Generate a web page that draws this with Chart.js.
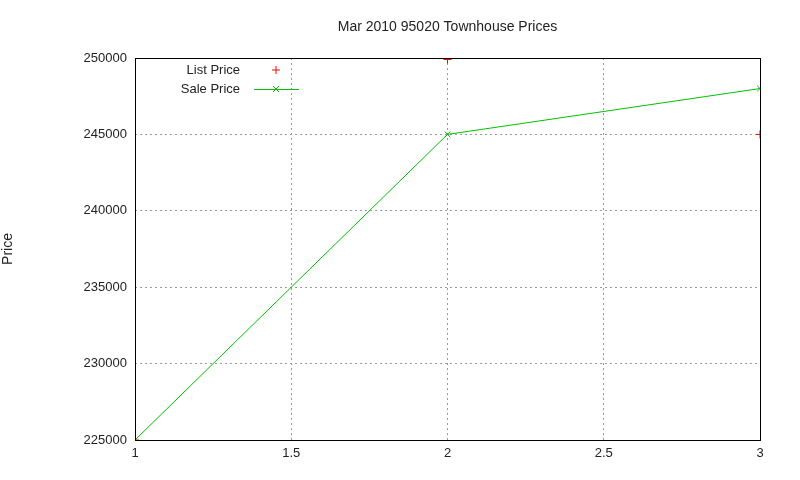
<!DOCTYPE html>
<html>
<head>
<meta charset="utf-8">
<script src="https://cdn.jsdelivr.net/npm/chart.js@4"></script>
<style>
  body { margin:0; background:#fff; }
  #wrap { width:800px; height:480px; }
</style>
</head>
<body>
<div id="wrap"><canvas id="c"></canvas></div>
<script>
'use strict';

const xValues = [1, 2, 3];
const listPrice = [225000, 249900, 245000];
const salePrice = [225000, 245000, 248000];
const chartTitle = 'Mar 2010 95020 Townhouse Prices';

const FONT = { family: 'Liberation Sans, Arial, sans-serif', size: 13 };

// box, title over plot area and gnuplot-style key inside top-left
const boxAndKey = {
  id: 'boxAndKey',
  afterDraw(chart) {
    const { ctx, chartArea: a } = chart;
    ctx.save();
    ctx.strokeStyle = '#000'; ctx.lineWidth = 1; ctx.setLineDash([]);
    ctx.strokeRect(a.left + 0.5, a.top + 0.5, a.right - a.left, a.bottom - a.top);
    ctx.font = '14px ' + FONT.family;
    ctx.fillStyle = '#222'; ctx.textBaseline = 'middle';
    ctx.textAlign = 'center';
    ctx.fillText(chartTitle, (a.left + a.right) / 2, 27);
    ctx.font = '13px ' + FONT.family;
    ctx.textAlign = 'right';
    ctx.fillText('List Price', 240, 70);
    ctx.fillText('Sale Price', 240, 89);
    ctx.strokeStyle = '#ff0000';
    ctx.beginPath(); ctx.moveTo(272, 70); ctx.lineTo(280, 70); ctx.moveTo(276, 66); ctx.lineTo(276, 74); ctx.stroke();
    ctx.strokeStyle = '#00c000';
    ctx.beginPath(); ctx.moveTo(254, 89.5); ctx.lineTo(299, 89.5); ctx.stroke();
    ctx.beginPath(); ctx.moveTo(273, 86); ctx.lineTo(279, 92); ctx.moveTo(279, 86); ctx.lineTo(273, 92); ctx.stroke();
    ctx.restore();
  }
};

new Chart(document.getElementById('c'), {
  type: 'scatter',
  data: {
    datasets: [
      {
        label: 'List Price',
        data: xValues.map((x, i) => ({ x, y: listPrice[i] })),
        showLine: false,
        pointStyle: 'cross', pointRadius: 4, borderColor: '#ff0000', borderWidth: 1
      },
      {
        label: 'Sale Price',
        data: xValues.map((x, i) => ({ x, y: salePrice[i] })),
        showLine: true,
        pointStyle: 'crossRot', pointRadius: 4, borderColor: '#00c000', backgroundColor: '#00c000', borderWidth: 1
      }
    ]
  },
  options: {
    animation: false,
    responsive: true,
    maintainAspectRatio: false,
    layout: { padding: { left: 0, right: 40, top: 58, bottom: 0 } },
    plugins: {
      legend: { display: false },
      tooltip: { enabled: false },
      title: { display: false }
    },
    scales: {
      x: {
        type: 'linear', min: 1, max: 3,
        ticks: { stepSize: 0.5, color: '#222', font: FONT, padding: 6, callback: v => String(v) },
        grid: { color: '#999', drawTicks: false },
        border: { display: false, dash: [2, 3] },
        afterFit(s) { s.height = 40; }
      },
      y: {
        min: 225000, max: 250000,
        ticks: { stepSize: 5000, color: '#222', font: FONT, padding: 8, callback: v => String(v) },
        grid: { color: '#999', drawTicks: false },
        border: { display: false, dash: [2, 3] },
        title: { display: true, text: 'Price', color: '#222', font: { ...FONT, size: 14 }, padding: { top: 0, bottom: 50 } },
        afterFit(s) { s.width = 135; }
      }
    }
  },
  plugins: [boxAndKey]
});
</script>
</body>
</html>
